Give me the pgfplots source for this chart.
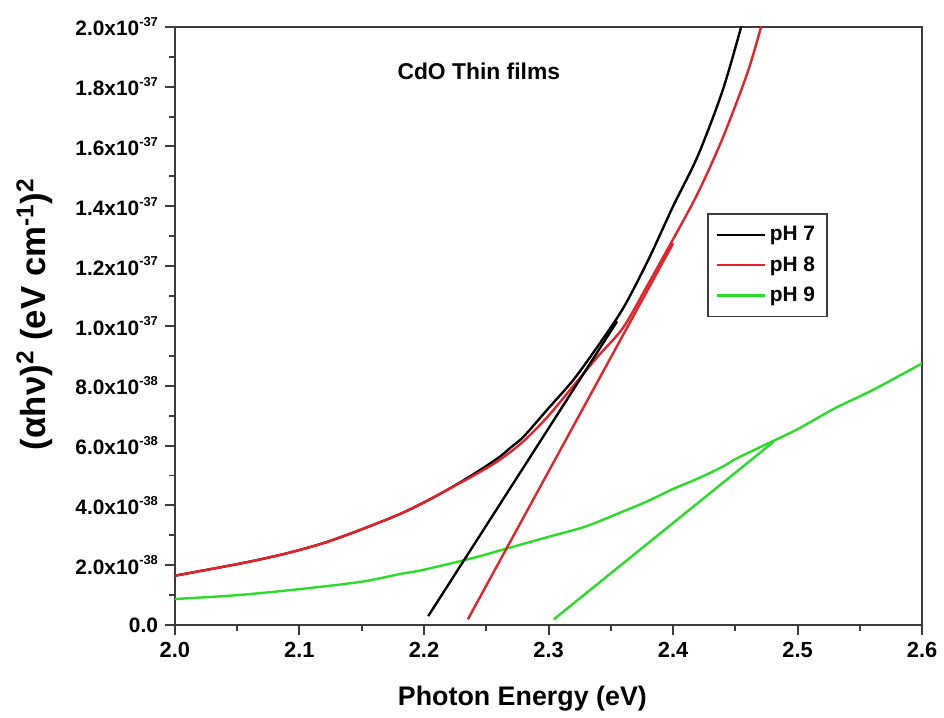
\documentclass[border=0pt]{standalone}
\usepackage{fontspec}
\setmainfont{Liberation Sans}
\usepackage{pgfplots}
\pgfplotsset{compat=1.18}

\definecolor{phred}{RGB}{232,32,40}
\definecolor{phgreen}{RGB}{40,220,40}
\definecolor{axgray}{RGB}{60,60,60}

% y tick label: mantissa x 10 with a small raised exponent
\newcommand{\ylab}[2]{#1x10\raisebox{0.85ex}{\fontsize{6.5}{7}\selectfont #2}}

\begin{document}
\begin{tikzpicture}
\begin{axis}[
  scale only axis,
  width=376pt, height=301pt,
  xmin=2.0, xmax=2.6, ymin=0, ymax=20,
  axis line style={axgray, line width=1pt},
  every tick/.style={axgray, line width=1pt},
  tick align=outside,
  xtick pos=bottom, ytick pos=left,
  major tick length=5pt, minor tick length=3pt,
  xtick={2.0,2.1,2.2,2.3,2.4,2.5,2.6},
  xticklabels={2.0,2.1,2.2,2.3,2.4,2.5,2.6},
  ytick={0,2,4,6,8,10,12,14,16,18,20},
  yticklabels={0.0,\ylab{2.0}{-38},\ylab{4.0}{-38},\ylab{6.0}{-38},\ylab{8.0}{-38},
    \ylab{1.0}{-37},\ylab{1.2}{-37},\ylab{1.4}{-37},\ylab{1.6}{-37},\ylab{1.8}{-37},\ylab{2.0}{-37}},
  minor x tick num=1, minor y tick num=1,
  xticklabel style={font=\fontsize{11}{12}\selectfont\bfseries},
  yticklabel style={font=\fontsize{10.5}{11}\selectfont\bfseries},
  xlabel={Photon Energy (eV)},
  xlabel style={at={(axis description cs:0.465,0)}, anchor=base, yshift=-40.5pt,
    font=\fontsize{13.5}{15}\selectfont\bfseries},
  ylabel={(αhν)\textsuperscript{2} (eV cm\textsuperscript{-1})\textsuperscript{2}},
  ylabel style={at={(axis description cs:-0.1875,0.52)}, anchor=center,
    font=\fontsize{17.5}{19}\selectfont\bfseries},
  legend style={at={(rel axis cs:0.712,0.688)}, anchor=north west,
    draw=axgray, line width=0.8pt, inner sep=4pt, row sep=2.5pt,
    font=\fontsize{10.5}{12}\selectfont\bfseries},
  legend cell align=left,
  legend image code/.code={\draw[#1, line width=1.2pt] (0pt,0pt) -- (24pt,0pt);},
  every axis plot/.append style={line width=1.2pt},
]
\addplot[black, smooth, tension=0.5] coordinates {
  (2.00,1.65) (2.03,1.88) (2.06,2.12) (2.09,2.40) (2.12,2.75) (2.15,3.20)
  (2.18,3.70) (2.20,4.10) (2.22,4.55) (2.24,5.05) (2.26,5.60) (2.27,5.95)
  (2.28,6.30) (2.30,7.25) (2.32,8.20) (2.34,9.35) (2.36,10.60) (2.38,12.20)
  (2.40,14.00) (2.42,15.70) (2.44,17.90) (2.456,20.20)
};
\addlegendentry{pH 7}
\addplot[phred, smooth, tension=0.5] coordinates {
  (2.00,1.65) (2.03,1.88) (2.06,2.12) (2.09,2.40) (2.12,2.75) (2.15,3.20)
  (2.18,3.70) (2.20,4.10) (2.22,4.55) (2.24,5.00) (2.26,5.50) (2.28,6.15)
  (2.30,7.00) (2.32,8.00) (2.34,9.00) (2.36,9.95) (2.38,11.40) (2.40,12.90)
  (2.42,14.45) (2.44,16.30) (2.46,18.50) (2.472,20.20)
};
\addlegendentry{pH 8}
\addplot[phgreen, smooth, tension=0.5] coordinates {
  (2.00,0.87) (2.05,1.00) (2.10,1.20) (2.15,1.45) (2.18,1.70) (2.20,1.85)
  (2.24,2.25) (2.27,2.60) (2.30,2.95) (2.33,3.30) (2.36,3.80) (2.38,4.15)
  (2.40,4.55) (2.42,4.90) (2.44,5.30) (2.45,5.55) (2.47,5.95) (2.50,6.55)
  (2.53,7.25) (2.56,7.85) (2.60,8.75)
};
\addlegendentry{pH 9}
% linear fits to the absorption edge
\addplot[black, forget plot] coordinates {(2.2034,0.30) (2.355,10.15)};
\addplot[phred, forget plot] coordinates {(2.2352,0.19) (2.40,12.76)};
\addplot[phgreen, forget plot] coordinates {(2.3042,0.19) (2.4805,6.12)};

\node[font=\fontsize{11.5}{13}\selectfont\bfseries] at (axis cs:2.244,18.5) {CdO Thin films};
\coordinate (bl) at (rel axis cs:0,0);
\coordinate (tr) at (rel axis cs:1,1);
\end{axis}
\path ([xshift=-88pt,yshift=-44pt]bl) rectangle ([xshift=8pt,yshift=13.5pt]tr);
\end{tikzpicture}
\end{document}
